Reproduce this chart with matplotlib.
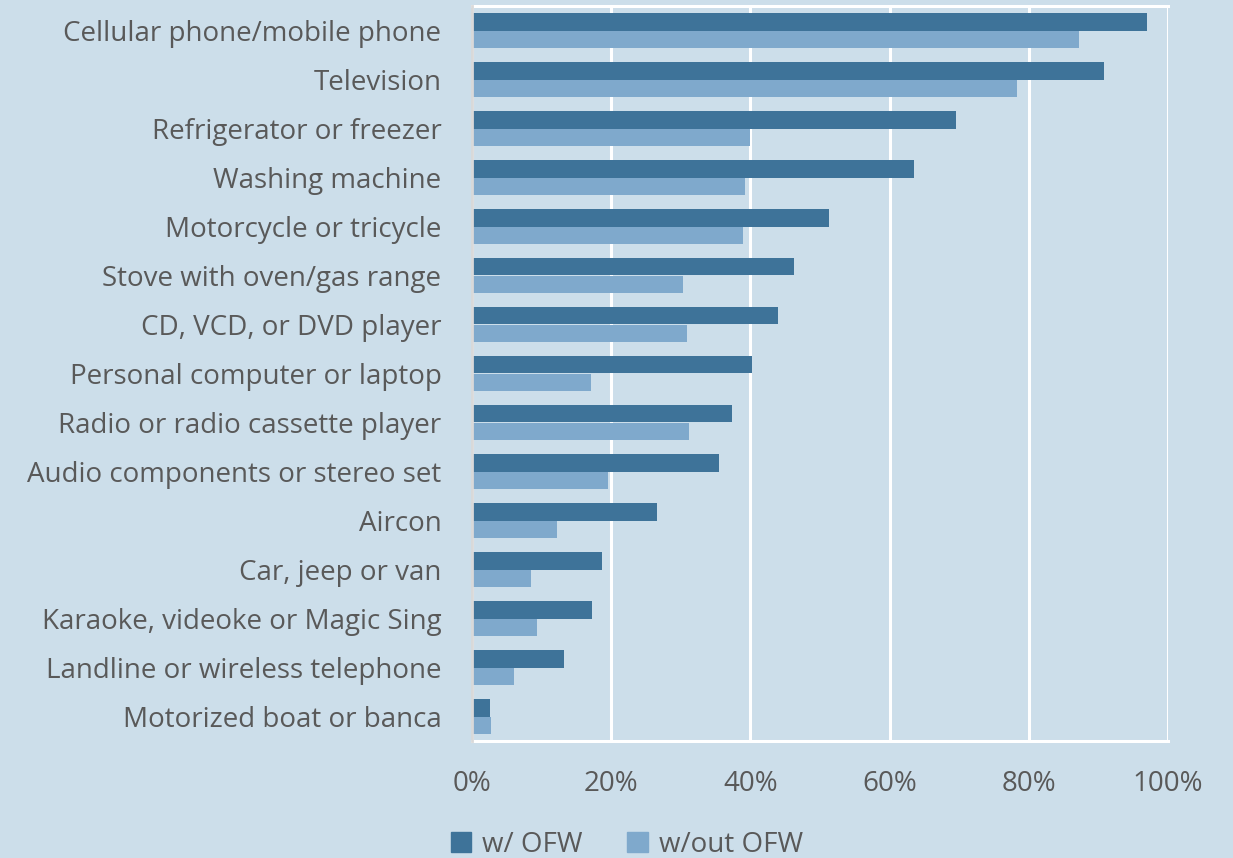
import matplotlib.pyplot as plt
import matplotlib.patches as mplpatches
import numpy as np

plt.rcParams['font.family'] = ['Open Sans', 'DejaVu Sans']

items = ['Cellular phone/mobile phone', 'Television', 'Refrigerator or freezer',
         'Washing machine', 'Motorcycle or tricycle', 'Stove with oven/gas range',
         'CD, VCD, or DVD player', 'Personal computer or laptop',
         'Radio or radio cassette player', 'Audio components or stereo set',
         'Aircon', 'Car, jeep or van', 'Karaoke, videoke or Magic Sing',
         'Landline or wireless telephone', 'Motorized boat or banca']
with_ofw = [97.0, 90.8, 69.5, 63.5, 51.3, 46.3, 44.0, 40.2, 37.4, 35.5,
            26.6, 18.7, 17.2, 13.2, 2.6]
without_ofw = [87.2, 78.3, 39.9, 39.2, 38.9, 30.3, 30.9, 17.1, 31.2, 19.5,
               12.2, 8.5, 9.3, 6.0, 2.7]
xticks = [0, 20, 40, 60, 80, 100]

bg = '#ccdeea'
dark = '#3e7399'
light = '#7fa9cc'
txt = '#595959'

fig = plt.figure(figsize=(12.33, 8.58), dpi=100, facecolor=bg)
ax = fig.add_axes([472/1233, 117/858, 696/1233, 735/858], facecolor=bg)

y = np.arange(len(items))
h = 0.367
ax.barh(y - h/2, with_ofw, height=h, color=dark, label='w/ OFW', zorder=3)
ax.barh(y + h/2, without_ofw, height=h, color=light, label='w/out OFW', zorder=3)

ax.set_xlim(0, 100)
ax.set_ylim(len(items) - 0.5, -0.5)
ax.set_xticks(xticks)
ax.set_xticklabels([f'{v}%' for v in xticks])
ax.set_yticks(y)
ax.set_yticklabels(items)
ax.grid(axis='x', color='white', linewidth=2.2, zorder=1)
ax.tick_params(axis='both', length=0, labelsize=20, labelcolor=txt)
ax.tick_params(axis='x', pad=21)
ax.tick_params(axis='y', pad=22)

for side in ['top', 'bottom']:
    ax.spines[side].set_color('white')
    ax.spines[side].set_linewidth(2.2)
ax.spines['right'].set_visible(False)
ax.spines['left'].set_color('#d9d9d9')
ax.spines['left'].set_linewidth(2.0)
ax.spines['left'].set_zorder(4)

handles = [mplpatches.Patch(color=dark, label='w/ OFW'),
           mplpatches.Patch(color=light, label='w/out OFW')]
fig.legend(handles=handles, loc='center', bbox_to_anchor=(627/1233, 1 - 845/858),
           ncol=2, frameon=False, fontsize=20, labelcolor=txt,
           handlelength=0.75, handleheight=0.75, handletextpad=0.4, columnspacing=1.6)

plt.savefig('out.png', dpi=100, facecolor=bg)
